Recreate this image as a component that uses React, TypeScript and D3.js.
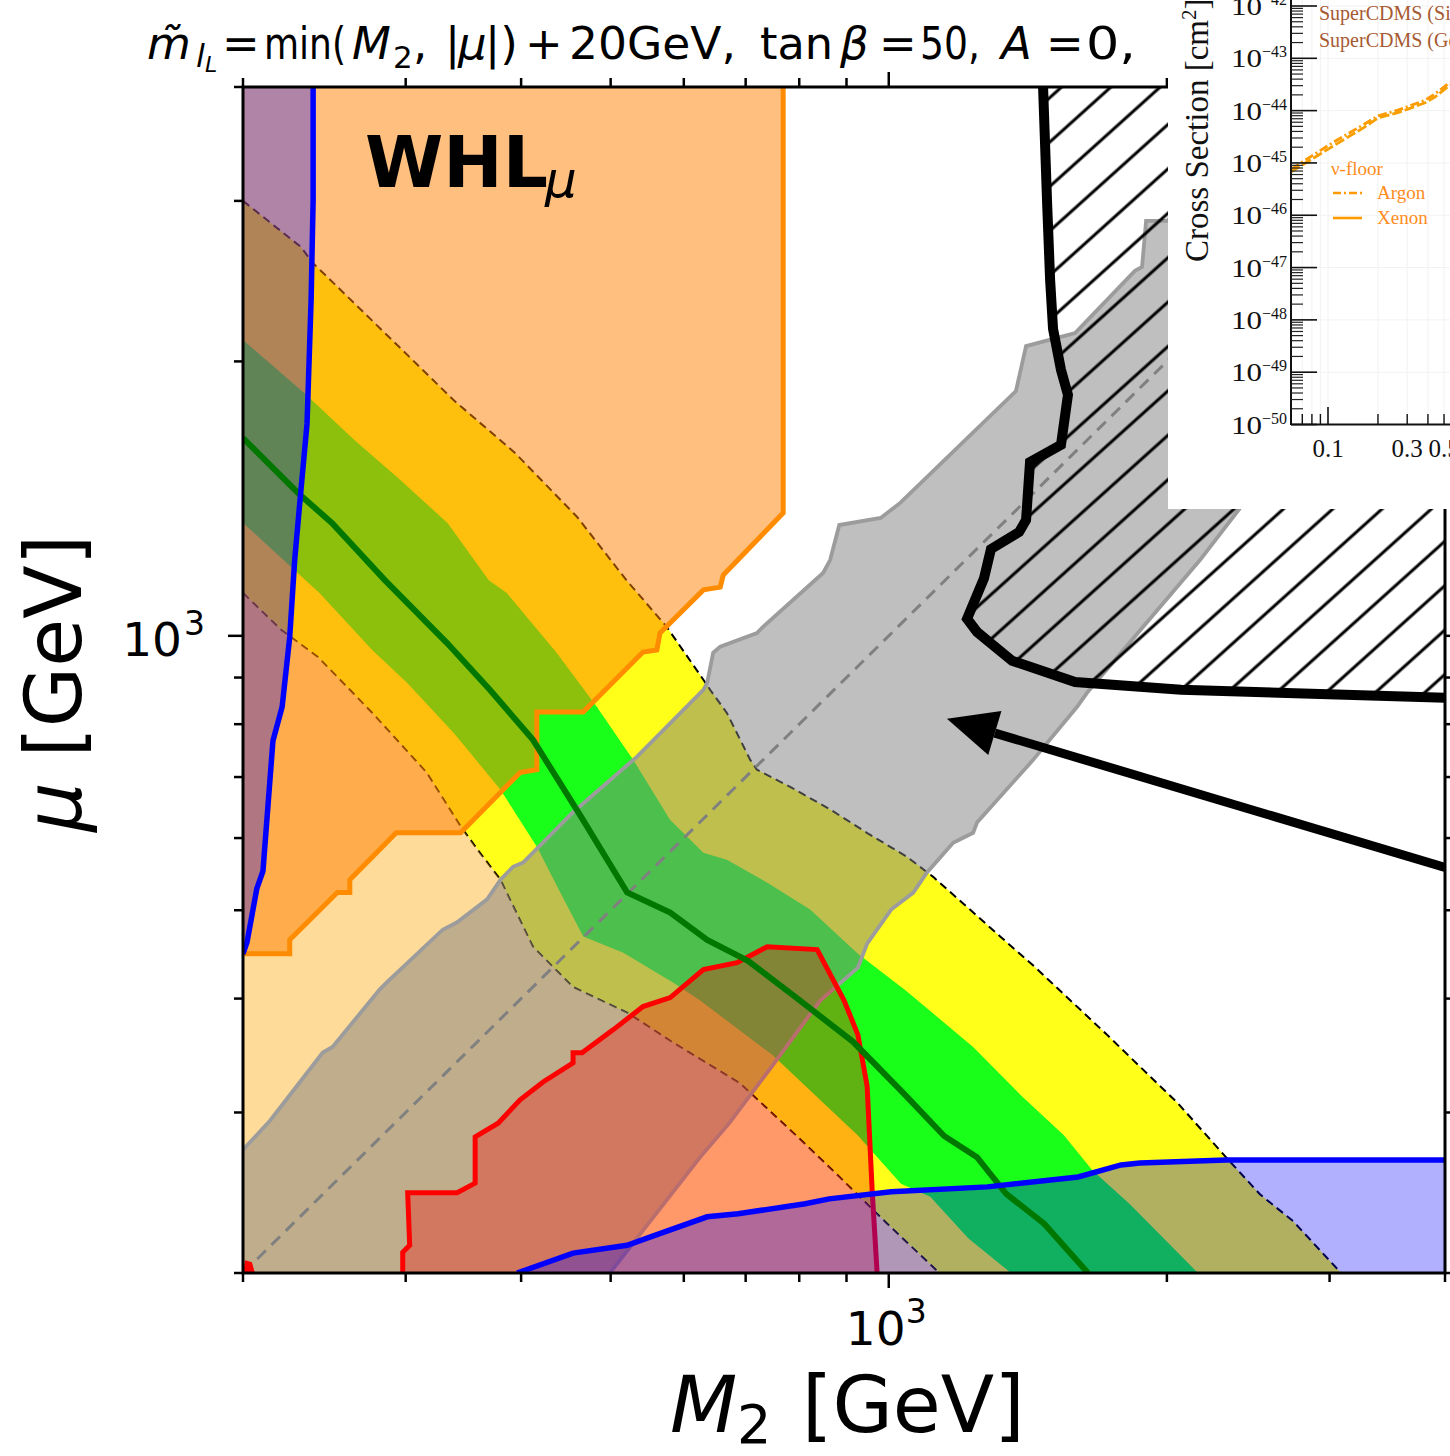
import React from 'react';
import * as d3 from 'd3';

type P = [number, number];

// ---------- main plane data (M2 [GeV], mu [GeV]) ----------
const M2_DOMAIN: P = [200, 4000];
const MU_DOMAIN: P = [200, 4000];
const MAJOR_TICKS = [1000];
const MINOR_TICKS = [200, 300, 400, 500, 600, 700, 800, 900, 2000, 3000, 4000];

const yellowUpper: P[] = [[200,3000],[231,2671],[238,2565],[290,2111],[338,1814],[394,1587],[460,1350],[520,1151],[575,1023],[630,895],[641,872],[668,823],[708,731],[720,713],[782,683],[864,645],[947,608],[1047,572],[1117,544],[1320,468],[1440,433],[1723,365],[2056,307],[2317,268],[2522,244],[2739,228],[3087,200]];
const yellowLower: P[] = [[200,1114],[220,1015],[241,948],[276,823],[316,708],[344,618],[361,578],[380,540],[389,514],[412,456],[455,412],[521,386],[584,358],[690,323],[794,283],[884,255],[996,226.5],[1134,200]];
const greenUpper: P[] = [[200,2111],[233,1847],[264,1640],[296,1482],[333,1330],[369,1151],[386,1114],[437,958],[483,836],[529,731],[580,628],[630,578],[668,568],[739,536],[822,501],[926,448],[1044,408],[1234,354],[1387,314],[1548,283],[1660,259.5],[1824,238],[2161,200]];
const greenLower: P[] = [[200,1330],[242,1114],[276,965],[301,888],[338,783],[380,678],[416,587],[441,523],[467,468],[516,449],[584,416.5],[625,398],[748,347],[926,283],[1031,250.5],[1109,242.5],[1219,218.4],[1356,200]];
const greenCentre: P[] = [[200,1648],[230.5,1428],[249.6,1330],[284.8,1151],[332.6,982],[370,872.5],[412,769],[463,636.5],[521,523],[580,497],[636,464],[704,440],[794,401],[915,358.6],[1044,312.8],[1148,282.7],[1246,268],[1340,244.3],[1473,226.5],[1643,200]];
const grayUpper: P[] = [[200,273],[214,294],[244,349],[250,354],[281,409],[286,416.5],[329,476],[341,485],[367.5,514],[380,540],[392,558],[402,564],[455,640],[534,737],[630,872.5],[636,888],[645.5,958],[657,973],[720,1007],[731,1023],[849,1172],[864,1211],[884,1323],[980,1347],[1029,1399],[1373,1856],[1408,2079],[1591,2149],[1847,2514],[1880,2540],[1899,2852],[2001,2852],[2340,3410],[2718,4000]];
const grayLower: P[] = [[499,200],[625,268],[672,292],[748,337.5],[843,398],[926,432.6],[947.5,459.6],[1006,500.8],[1063,522.8],[1100,550],[1174,593],[1234,608],[1246,624],[1433,731],[1599,836],[1639,866],[2172,1211],[2400,1381],[4000,2718]];
const whlRegion: P[] = [[200,4000],[768.6,4000],[768.6,1364],[662,1166],[657,1131],[630,1123],[565.5,1007],[561,965],[542,960],[467,825],[416,825],[416,713],[399,708],[344,608],[293,608],[261,540],[261,523],[253,523],[224.7,464],[224.7,448],[200,448]];
const redRegion: P[] = [[297.8,200],[297.8,210.8],[303,214.5],[301.5,244.9],[341,244.9],[356.7,251],[356.7,282],[377.7,292],[399,309.7],[422.5,324],[455.3,340],[455.3,348.8],[465.6,348.8],[503,369.6],[542,392],[580,401],[630,430.4],[685,438],[738.6,456],[836.5,452.7],[894.7,398],[926,365],[947.5,320.8],[959.4,246.7],[971.4,200]];
const redSpeck: P[] = [[200,200],[206,200],[204.5,205.5],[201,206.5]];
const blueLeft: P[] = [[238.2,4000],[238.2,3006],[237,2336],[234.6,1708],[230.5,1406],[227.5,1211],[224.7,997],[220.5,836],[215.5,767],[210.2,552],[207,528],[202,461],[200,448]];
const blueBottom: P[] = [[396,200],[455.3,210.3],[521,214.5],[547.5,218.4],[636,230.5],[687,232.3],[812,238.2],[862,241.2],[1006,245.5],[1278,248.6],[1603,254.9],[1784,262.8],[1870,264.1],[2317,266.1],[4000,266.1]];
const exclusion: P[] = [[1469,4000],[1484,2976],[1495,2457],[1506,2171],[1536,1958],[1563,1838],[1536,1620],[1422,1551],[1408,1340],[1384,1300],[1290,1245],[1268,1157],[1215.5,1044],[1246,1010],[1360,939],[1591,890],[2072,872.5],[4000,855]];
const diagonal: P[] = [[200,200],[4000,4000]];
const arrowTail: P = [4000, 557];
const arrowTip: P = [1156, 811];

// ---------- inset data (mass [GeV], cross section [cm^2]) ----------
const insetDecades = [-50, -49, -48, -47, -46, -45, -44, -43, -42];
const insetXMajor = [0.1];
const insetXMinor = [0.07, 0.08, 0.09, 0.2, 0.3, 0.4, 0.5];
const insetXLabels = ['0.1', '0.3', '0.5'];
const floorMass = [0.06, 0.1057, 0.167, 0.2, 0.264, 0.384, 0.441, 0.543];
const xenonFloor = [6.76e-46, 2.04e-45, 4.9e-45, 7.24e-45, 9.12e-45, 1.41e-44, 1.82e-44, 3.09e-44];
const argonFloor = [7.59e-46, 2.4e-45, 5.62e-45, 7.94e-45, 1.02e-44, 1.58e-44, 2.09e-44, 3.47e-44];

const L = 243, R = 1445, T = 87, B = 1273;

export default function App() {
  const x = d3.scaleLog().domain(M2_DOMAIN).range([L, R]);
  const y = d3.scaleLog().domain(MU_DOMAIN).range([B, T]);
  const lineGen = d3.line<P>().x(d => x(d[0])).y(d => y(d[1]));
  const open = (pts: P[]) => lineGen(pts) || '';
  const closed = (pts: P[]) => open(pts) + 'Z';
  const rev = (pts: P[]) => [...pts].reverse();

  const yellowPath = closed([...yellowUpper, ...rev(yellowLower)]);
  const lightOrangePath = closed([...yellowLower, [200, 200]]);
  const greenPath = closed([...greenUpper, ...rev(greenLower)]);
  const grayPath = closed([[200, 200], ...grayUpper, [4000, 4000], ...rev(grayLower)]);
  const whlPath = closed(whlRegion);
  const redPath = closed(redRegion);
  const blueLeftPath = closed([...blueLeft, [200, 4000]]);
  const blueBottomPath = closed([...blueBottom, [4000, 200]]);
  const hatchPath = closed([...exclusion, [4000, 4000]]);

  // arrow geometry
  const tx = x(arrowTail[0]), ty = y(arrowTail[1]);
  const hx = x(arrowTip[0]), hy = y(arrowTip[1]);
  const len = Math.hypot(hx - tx, hy - ty);
  const ux = (hx - tx) / len, uy = (hy - ty) / len;
  const headLen = 50, headHalf = 23;
  const bx = hx - ux * headLen, by = hy - uy * headLen;
  const head = `M${hx},${hy}L${bx - uy * headHalf},${by + ux * headHalf}L${bx + uy * headHalf},${by - ux * headHalf}Z`;

  // inset scales
  const ix = d3.scaleLog().domain([0.1, 1]).range([1328, 1494]);
  const iy = d3.scaleLog().domain([1e-50, 1e-42]).range([424.5, 6]);
  const iLine = d3.line<number>().x((_, i) => ix(floorMass[i])).y(d => iy(d));
  const insetMinorY: number[] = [];
  insetDecades.slice(0, -1).forEach(d => { for (let k = 2; k <= 9; k++) insetMinorY.push(k * Math.pow(10, d)); });

  const allTicks = [...MAJOR_TICKS.map(v => ({ v, major: true })), ...MINOR_TICKS.map(v => ({ v, major: false }))];

  const sans = 'DejaVu Sans, Verdana, sans-serif';
  const serif = 'Liberation Serif, Times New Roman, serif';

  const titleParts: { t: string; x: number; y?: number; fs?: number; it?: boolean; tl?: number }[] = [
    { t: 'm\u0303', x: 147, it: true },
    { t: 'l', x: 196, y: 67, fs: 32, it: true },
    { t: 'L', x: 205, y: 72, fs: 22, it: true },
    { t: '=', x: 222 },
    { t: 'min(', x: 264, tl: 82 },
    { t: 'M', x: 352, it: true },
    { t: '2', x: 393, y: 68, fs: 31 },
    { t: ',', x: 413 },
    { t: '|', x: 445 },
    { t: 'μ', x: 458, it: true },
    { t: '|)', x: 485 },
    { t: '+', x: 525 },
    { t: '20GeV,', x: 569, tl: 167 },
    { t: 'tan', x: 760, tl: 73 },
    { t: 'β', x: 840, it: true },
    { t: '=', x: 879 },
    { t: '50,', x: 920, tl: 60 },
    { t: 'A', x: 1001, it: true },
    { t: '=', x: 1046 },
    { t: '0,', x: 1086, tl: 50 },
  ];

  return (
    <svg width={1450} height={1456} style={{ position: 'absolute', left: 0, top: 0, background: 'white' }} fontFamily={sans}>
      <defs>
        <clipPath id="plotClip"><rect x={L} y={T} width={R - L} height={B - T} /></clipPath>
        <pattern id="hatch" patternUnits="userSpaceOnUse" width={300} height={33} patternTransform="rotate(-42)">
          <line x1={0} y1={16} x2={300} y2={16} stroke="#000" strokeWidth={2.8} />
        </pattern>
      </defs>
      <rect x={0} y={0} width={1450} height={1456} fill="#fff" />
      <g clipPath="url(#plotClip)">
        <path d={yellowPath} fill="#ffff1a" />
        <path d={greenPath} fill="#1aff1a" />
        <path d={open(yellowUpper)} fill="none" stroke="#000" strokeWidth={2} strokeDasharray="8,5" />
        <path d={open(yellowLower)} fill="none" stroke="#000" strokeWidth={2} strokeDasharray="8,5" />
        <path d={lightOrangePath} fill="#ffa500" fillOpacity={0.4} />
        <path d={grayPath} fill="#808080" fillOpacity={0.5} />
        <path d={open(diagonal)} fill="none" stroke="#808080" strokeWidth={3} strokeDasharray="12,8" />
        <path d={open(grayUpper)} fill="none" stroke="#9c9c9c" strokeWidth={3.8} />
        <path d={open(grayLower)} fill="none" stroke="#9c9c9c" strokeWidth={3.8} />
        <path d={whlPath} fill="#ff8000" fillOpacity={0.5} />
        <path d={open(whlRegion.slice(1))} fill="none" stroke="#ff8c00" strokeWidth={5} />
        <path d={redPath} fill="#ff0000" fillOpacity={0.3} />
        <path d={open(redRegion)} fill="none" stroke="#ff0000" strokeWidth={5} />
        <path d={closed(redSpeck)} fill="#ff0000" />
        <path d={blueLeftPath} fill="#0000ff" fillOpacity={0.31} />
        <path d={blueBottomPath} fill="#0000ff" fillOpacity={0.31} />
        <path d={open(greenCentre)} fill="none" stroke="#007800" strokeWidth={6} />
        <path d={open(blueLeft)} fill="none" stroke="#0000ff" strokeWidth={5.5} />
        <path d={open(blueBottom)} fill="none" stroke="#0000ff" strokeWidth={5.5} />
        <path d={hatchPath} fill="url(#hatch)" />
        <path d={open(exclusion)} fill="none" stroke="#000" strokeWidth={10} strokeLinejoin="miter" />
        <line x1={tx} y1={ty} x2={bx} y2={by} stroke="#000" strokeWidth={9} />
        <path d={head} fill="#000" />
      </g>

      {/* axes frame and ticks */}
      <rect x={L} y={T} width={R - L} height={B - T} fill="none" stroke="#000" strokeWidth={3} />
      {allTicks.map(({ v, major }, i) => {
        const len = major ? 15 : 9;
        return (
          <g key={i} stroke="#000" strokeWidth={2.5}>
            <line x1={x(v)} x2={x(v)} y1={B} y2={B + len} />
            <line x1={x(v)} x2={x(v)} y1={T} y2={T - len} />
            <line y1={y(v)} y2={y(v)} x1={L} x2={L - len} />
            <line y1={y(v)} y2={y(v)} x1={R} x2={R + len} />
          </g>
        );
      })}
      {/* tick labels */}
      <text x={x(1000) - 43} y={1345} fontSize={47}>10</text>
      <text x={x(1000) + 17} y={1323} fontSize={33}>3</text>
      <text x={182} y={y(1000) + 20} fontSize={47} textAnchor="end">10</text>
      <text x={184} y={y(1000) - 1} fontSize={33}>3</text>
      {/* axis labels */}
      <text x={670} y={1432} fontSize={78} fontStyle="italic">M</text>
      <text x={737} y={1443} fontSize={54}>2</text>
      <text x={802} y={1432} fontSize={78}>[GeV]</text>
      <text transform="translate(81,832) rotate(-90)" fontSize={78}>
        <tspan fontStyle="italic">μ</tspan>
        <tspan> [GeV]</tspan>
      </text>
      {/* WHL label */}
      <text x={365} y={187} fontSize={71} fontWeight="bold">WHL</text>
      <text x={545} y={197} fontSize={50} fontStyle="italic">μ</text>
      {/* title */}
      {titleParts.map((p, i) => (
        <text key={i} x={p.x} y={p.y ?? 59} fontSize={p.fs ?? 45} fontStyle={p.it ? 'italic' : 'normal'}
          {...(p.tl ? { textLength: p.tl, lengthAdjust: 'spacingAndGlyphs' } : {})}>{p.t}</text>
      ))}

      {/* inset figure */}
      <g>
        <rect x={1168} y={0} width={282} height={509} fill="#fff" />
        {insetDecades.map(d => (
          <line key={'gh' + d} x1={1291} x2={1450} y1={iy(Math.pow(10, d))} y2={iy(Math.pow(10, d))} stroke="#f2f2f2" strokeWidth={1} />
        ))}
        {[...insetXMajor, ...insetXMinor].map(v => (
          <line key={'gv' + v} x1={ix(v)} x2={ix(v)} y1={0} y2={424} stroke="#f2f2f2" strokeWidth={1} />
        ))}
        <path d={iLine(argonFloor) || ''} fill="none" stroke="#ff9a00" strokeWidth={2.8} strokeDasharray="9,3,2,3" />
        <path d={iLine(xenonFloor) || ''} fill="none" stroke="#f5a000" strokeWidth={2.8} strokeDasharray="10,3" />
        <line x1={1291} x2={1291} y1={0} y2={425} stroke="#111" strokeWidth={2} />
        <line x1={1291} x2={1450} y1={424.5} y2={424.5} stroke="#111" strokeWidth={2} />
        {insetDecades.map(d => (
          <line key={'my' + d} x1={1291} x2={1317} y1={iy(Math.pow(10, d))} y2={iy(Math.pow(10, d))} stroke="#111" strokeWidth={1.6} />
        ))}
        {insetMinorY.map((v, i) => (
          <line key={'ny' + i} x1={1291} x2={1303} y1={iy(v)} y2={iy(v)} stroke="#222" strokeWidth={1.2} />
        ))}
        {insetXMajor.map(v => (
          <line key={'mx' + v} x1={ix(v)} x2={ix(v)} y1={424.5} y2={407} stroke="#111" strokeWidth={1.6} />
        ))}
        {insetXMinor.map(v => (
          <line key={'nx' + v} x1={ix(v)} x2={ix(v)} y1={424.5} y2={414} stroke="#111" strokeWidth={1.4} />
        ))}
        {insetDecades.map(d => (
          <g key={'yl' + d} fontFamily={serif} fill="#111">
            <text x={1231} y={iy(Math.pow(10, d)) + 9} fontSize={26} textLength={31} lengthAdjust="spacingAndGlyphs">10</text>
            <text x={1262} y={iy(Math.pow(10, d)) - 1} fontSize={16}>{'\u2212' + Math.abs(d)}</text>
          </g>
        ))}
        {insetXLabels.map(t => (
          <text key={'xl' + t} x={ix(+t)} y={457} fontSize={25} fontFamily={serif} textAnchor="middle" fill="#111">{t}</text>
        ))}
        <text transform="translate(1208,262) rotate(-90)" fontSize={33} fontFamily={serif} fill="#111">
          Cross Section [cm<tspan dy={-12} fontSize={21}>2</tspan><tspan dy={12}>]</tspan>
        </text>
        <text x={1319} y={20} fontSize={20} fontFamily={serif} fill="#a65a32">SuperCDMS (Si)</text>
        <text x={1319} y={47} fontSize={20} fontFamily={serif} fill="#a65a32">SuperCDMS (Ge)</text>
        <text x={1331} y={175} fontSize={19} fontFamily={serif} fill="#ff8c1a">ν-floor</text>
        <line x1={1333} x2={1362} y1={193} y2={193} stroke="#ff9a00" strokeWidth={2.6} strokeDasharray="8,3,2,3" />
        <text x={1377} y={199} fontSize={19} fontFamily={serif} fill="#ff8c1a">Argon</text>
        <line x1={1333} x2={1362} y1={218} y2={218} stroke="#ff9a00" strokeWidth={2.6} />
        <text x={1377} y={224} fontSize={19} fontFamily={serif} fill="#ff8c1a">Xenon</text>
      </g>
    </svg>
  );
}
